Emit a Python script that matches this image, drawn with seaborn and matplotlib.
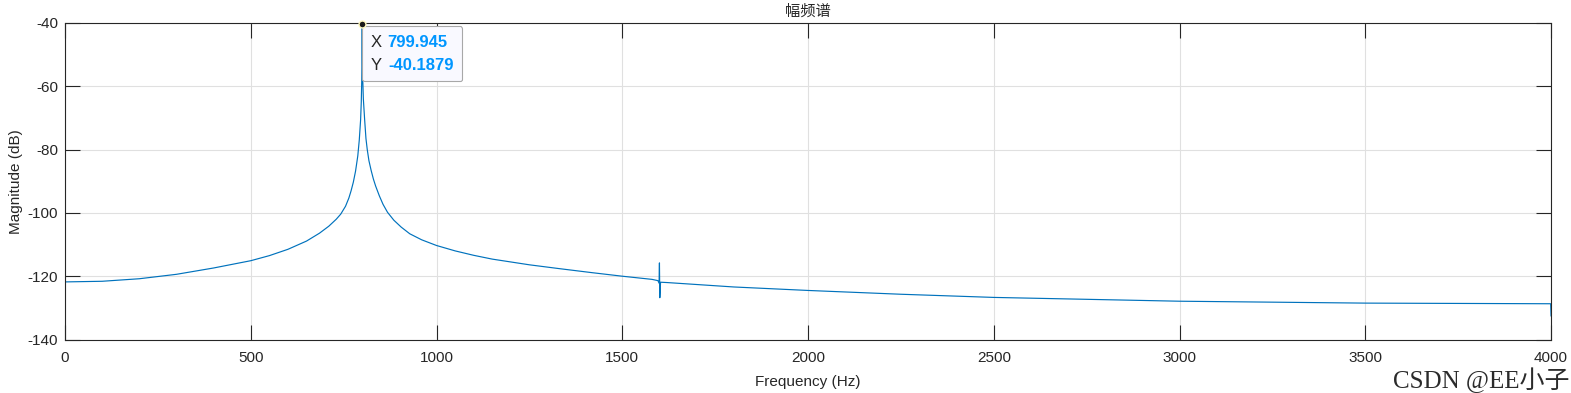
import numpy as np
import matplotlib
matplotlib.use('Agg')
import matplotlib.pyplot as plt
import seaborn as sns
from matplotlib.offsetbox import AnnotationBbox, HPacker, VPacker, TextArea

# Values
freq_hz = [0, 1, 100, 200, 300, 400, 500, 550, 600, 650, 685, 710, 730, 742, 755, 764,
           770, 776, 782, 788, 792, 795.6, 797.4, 798.7, 799.4, 799.945, 800.5,
           801.4, 803, 806.5, 810, 813.5, 818, 824, 830, 836, 846, 856, 868, 885,
           905, 928, 960, 1000, 1050, 1100, 1150, 1250, 1330, 1420, 1500, 1580,
           1596, 1599, 1600, 1601, 1603, 1620, 1800, 2000, 2250, 2500, 2750, 3000,
           3250, 3500, 3750, 3999, 4000]
mag_db = [-128.4, -121.8, -121.6, -120.8, -119.4, -117.4, -115.1, -113.5, -111.5, -108.9,
          -106.4, -104.2, -102.0, -100.4, -97.9, -95.3, -93.0, -90.3, -86.8, -82.0,
          -77.0, -70.6, -65.0, -58.0, -50.0, -40.1879, -50.0, -58.0, -64.0, -70.6,
          -76.5, -80.0, -83.5, -86.6, -89.3, -91.5, -94.6, -97.3, -99.8, -102.3,
          -104.5, -106.6, -108.5, -110.3, -112.0, -113.4, -114.6, -116.4, -117.6,
          -118.9, -120.0, -121.0, -121.4, -122.2, -115.8, -126.8, -121.9, -122.0,
          -123.4, -124.5, -125.7, -126.7, -127.3, -127.9, -128.2, -128.5, -128.6,
          -128.7, -132.6]

peak_x = 799.945
peak_y = -40.1879

x_ticks = [0, 500, 1000, 1500, 2000, 2500, 3000, 3500, 4000]
y_ticks = [-140, -120, -100, -80, -60, -40]

sns.set_style('white')
plt.rcParams['font.family'] = ['Liberation Sans', 'Noto Sans CJK SC']
plt.rcParams['axes.unicode_minus'] = False

fig = plt.figure(figsize=(15.71, 3.93), dpi=100)
ax = fig.add_axes([0.0414, 0.1361, 0.9459, 0.8054])

sns.lineplot(x=freq_hz, y=mag_db, ax=ax, color='#0072BD', linewidth=0.85, sort=False)

ax.set_xlim(0, 4000)
ax.set_ylim(-140, -40)
ax.set_xticks(x_ticks)
ax.set_yticks(y_ticks)
ax.grid(True, color='#e0e0e0', linewidth=0.8)
ax.tick_params(direction='in', length=10.8, width=0.8, color='#262626',
               labelsize=11, labelcolor='#262626', top=True, right=True,
               bottom=True, left=True, pad=5)
ax.tick_params(axis='x', pad=8.5)
for s in ax.spines.values():
    s.set_color('#262626')
    s.set_linewidth(0.8)

ax.set_title('幅频谱', fontsize=11, color='#262626', pad=5)
ax.set_xlabel('Frequency (Hz)', fontsize=11, color='#262626', labelpad=7)
ax.set_ylabel('Magnitude (dB)', fontsize=11, color='#262626', labelpad=3)

# data tip
ax.plot(peak_x, peak_y, 'o', ms=5, mfc='#1a1a1a', mec='#fff8c0', mew=1, clip_on=False, zorder=5)
tp_lab = dict(color='#262626', size=12)
tp_val = dict(color='#0096FF', size=12, weight='bold')
row1 = HPacker(children=[TextArea('X', textprops=tp_lab),
                         TextArea('799.945', textprops=tp_val)], sep=4, pad=0)
row2 = HPacker(children=[TextArea('Y', textprops=tp_lab),
                         TextArea('-40.1879', textprops=tp_val)], sep=5, pad=0)
box = VPacker(children=[row1, row2], sep=6, pad=0)
ab = AnnotationBbox(box, (peak_x, peak_y), xybox=(6, -8), boxcoords='offset points',
                    box_alignment=(0, 1), frameon=True, pad=0.5,
                    bboxprops=dict(boxstyle='round,pad=0.6,rounding_size=0.2',
                                   fc='#f9f9ff', ec='#a8a8a8', lw=0.8))
ax.add_artist(ab)

fig.text(0.999, 0.0, 'CSDN @EE小子', ha='right', va='bottom', fontsize=18,
         color='#2b2b2b', family=['Liberation Serif', 'Noto Sans CJK SC'])

fig.savefig('out.png', dpi=100)
